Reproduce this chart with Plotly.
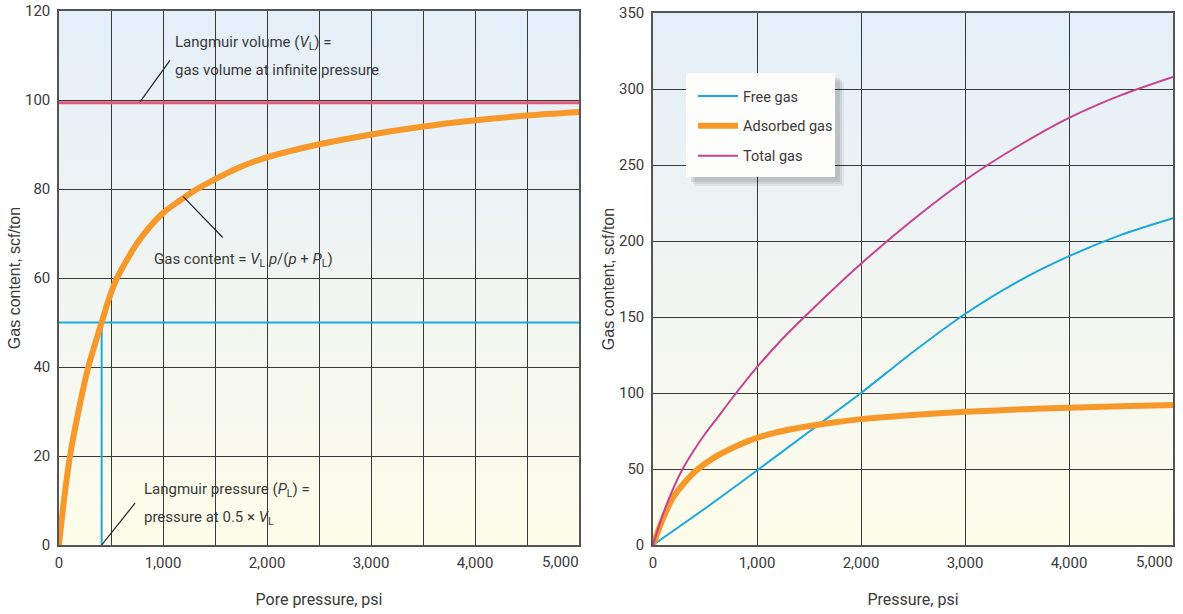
import base64
import plotly.graph_objects as go

# ---------------- data ----------------
# Left panel: Langmuir isotherm
left_p = [0, 50, 106, 200, 282, 410, 490, 554, 763, 1000, 1163, 1300, 1484,
          1750, 1997, 2494, 2990, 3487, 3984, 4497, 5000]
left_gas = [0, 10.5, 20, 31.5, 40, 50, 56, 59.8, 68.2, 74.6, 77.4, 79.6, 82.0,
            85.0, 87.1, 90.0, 92.2, 94.0, 95.4, 96.5, 97.3]
langmuir_volume = 99.4      # V_L line
langmuir_pressure = 410     # P_L
half_volume = 50            # 0.5 x V_L

# Right panel
free_p = [0, 500, 1000, 1500, 2000, 2500, 3000, 3500, 4000, 4500, 5000]
free_gas = [0, 24, 49, 74.5, 100, 127, 152, 173, 190, 204, 215]

ads_p = [0, 100, 200, 400, 600, 800, 1000, 1300, 1600, 2000, 2500, 3000,
         3500, 4000, 4500, 5000]
ads_gas = [0, 18, 32, 48, 58, 65, 70.5, 75.8, 79.3, 82.8, 85.6, 87.6, 89.1,
           90.3, 91.3, 92.1]

total_p = [0, 100, 200, 285, 400, 500, 600, 800, 1000, 1250, 1500, 2000, 2500,
           3000, 3500, 4000, 4500, 5000]
total_gas = [0, 21, 38, 50, 63, 73, 82, 100, 117, 136, 153, 185, 214,
             240, 262, 281, 296, 308]

left_yticks = [0, 20, 40, 60, 80, 100, 120]
right_yticks = [0, 50, 100, 150, 200, 250, 300, 350]
xticks = [0, 1000, 2000, 3000, 4000, 5000]
xtick_labels = ["0", "1,000", "2,000", "3,000", "4,000", ""]
last_xtick = 5000
last_xtick_label = "5,000"   # drawn right-aligned to the axis end, as in the source

# ---------------- styles ----------------
NARROW = "Roboto, Liberation Sans, Arial, sans-serif"
REG = "Liberation Sans, Arial, sans-serif"
TXT = "#3a3a3a"
GRID = "#3a3a3a"
ORANGE = "#f7982a"
BLUE = "#1ba8dc"
RED = "#e5587a"
MAGENTA = "#c8428f"

W, H = 1183, 614
L_DOM_X = [59 / W, 579 / W]
R_DOM_X = [653 / W, 1173 / W]
L_DOM_Y = [1 - 545 / H, 1 - 11 / H]
R_DOM_Y = [1 - 545 / H, 1 - 13 / H]

fig = go.Figure()

# left panel traces
fig.add_trace(go.Scatter(x=[0, 5000], y=[langmuir_volume, langmuir_volume],
                         mode="lines", line=dict(color=RED, width=3),
                         showlegend=False, xaxis="x", yaxis="y", hoverinfo="skip"))
fig.add_trace(go.Scatter(x=[0, 5000], y=[half_volume, half_volume],
                         mode="lines", line=dict(color=BLUE, width=2),
                         showlegend=False, xaxis="x", yaxis="y", hoverinfo="skip"))
fig.add_trace(go.Scatter(x=[langmuir_pressure, langmuir_pressure], y=[0, half_volume],
                         mode="lines", line=dict(color=BLUE, width=2),
                         showlegend=False, xaxis="x", yaxis="y", hoverinfo="skip"))
fig.add_trace(go.Scatter(x=left_p, y=left_gas, mode="lines",
                         line=dict(color=ORANGE, width=6, shape="spline", smoothing=0.8),
                         showlegend=False, xaxis="x", yaxis="y"))

# right panel traces
fig.add_trace(go.Scatter(x=free_p, y=free_gas, mode="lines", name="Free gas",
                         line=dict(color=BLUE, width=2, shape="spline", smoothing=0.8),
                         legendgroup="a", xaxis="x2", yaxis="y2"))
fig.add_trace(go.Scatter(x=ads_p, y=ads_gas, mode="lines", name="Adsorbed gas",
                         line=dict(color=ORANGE, width=6, shape="spline", smoothing=0.8),
                         legendgroup="b", xaxis="x2", yaxis="y2"))
fig.add_trace(go.Scatter(x=total_p, y=total_gas, mode="lines", name="Total gas",
                         line=dict(color=MAGENTA, width=2, shape="spline", smoothing=0.8),
                         legendgroup="c", xaxis="x2", yaxis="y2"))

# gradient background image (below grid)
svg = ('<svg xmlns="http://www.w3.org/2000/svg" width="10" height="100" '
       'viewBox="0 0 10 100" preserveAspectRatio="none"><defs>'
       '<linearGradient id="g" x1="0" y1="0" x2="0" y2="1">'
       '<stop offset="0" stop-color="#e4eff9"/>'
       '<stop offset="0.45" stop-color="#eff4f3"/>'
       '<stop offset="1" stop-color="#fffdea"/>'
       '</linearGradient></defs><rect width="10" height="100" fill="url(#g)"/></svg>')
src = "data:image/svg+xml;base64," + base64.b64encode(svg.encode()).decode()
images = [
    dict(source=src, xref="x", yref="y", x=0, y=120, sizex=5000, sizey=120,
         sizing="stretch", layer="below", xanchor="left", yanchor="top"),
    dict(source=src, xref="x2", yref="y2", x=0, y=350, sizex=5000, sizey=350,
         sizing="stretch", layer="below", xanchor="left", yanchor="top"),
]

tickfont = dict(family=NARROW, size=15, color=TXT)
common_axis = dict(showgrid=True, gridcolor=GRID, gridwidth=1, zeroline=False,
                   showline=True, linecolor="#555555", linewidth=1.5, mirror=True,
                   ticks="", tickfont=tickfont, automargin=False, fixedrange=True)

fig.update_layout(
    width=W, height=H,
    margin=dict(l=0, r=0, t=0, b=0),
    paper_bgcolor="white", plot_bgcolor="rgba(0,0,0,0)",
    images=images,
    xaxis=dict(common_axis, domain=L_DOM_X, range=[0, 5000], tickvals=xticks,
               ticktext=xtick_labels, anchor="y", ticklabelstandoff=3,
               minor=dict(dtick=500, showgrid=True, gridcolor=GRID, gridwidth=1),
               title=dict(text="Pore pressure, psi", standoff=23,
                          font=dict(family=NARROW, size=16, color=TXT))),
    yaxis=dict(common_axis, domain=L_DOM_Y, range=[0, 120], tickvals=left_yticks,
               anchor="x", ticklabelstandoff=4,
               title=dict(text="Gas content, scf/ton", standoff=0,
                          font=dict(family=REG, size=16, color=TXT))),
    xaxis2=dict(common_axis, domain=R_DOM_X, range=[0, 5000], tickvals=xticks,
                ticktext=xtick_labels, anchor="y2", ticklabelstandoff=3,
                title=dict(text="Pressure, psi", standoff=23,
                           font=dict(family=NARROW, size=16, color=TXT))),
    yaxis2=dict(common_axis, domain=R_DOM_Y, range=[0, 350], tickvals=right_yticks,
                anchor="x2", ticklabelstandoff=4,
                title=dict(text="Gas content, scf/ton", standoff=0,
                           font=dict(family=REG, size=16, color=TXT))),
    legend=dict(x=693 / W, y=1 - 80 / H, xanchor="left", yanchor="top",
                bgcolor="rgba(0,0,0,0)", borderwidth=0, tracegroupgap=8,
                itemwidth=40,
                font=dict(family=NARROW, size=14.5, color=TXT)),
    showlegend=True,
)

# legend box with soft shadow
bx0, bx1, by0, by1 = 686, 835, 73, 177
shapes = []
for off, op in [(9, 0.05), (7, 0.07), (5, 0.09)]:
    shapes.append(dict(type="rect", xref="paper", yref="paper", layer="above",
                       x0=(bx0 + off) / W, x1=(bx1 + off) / W,
                       y0=1 - (by1 + off) / H, y1=1 - (by0 + off) / H,
                       fillcolor=f"rgba(0,0,0,{op})", line=dict(width=0)))
shapes.append(dict(type="rect", xref="paper", yref="paper", layer="above",
                   x0=bx0 / W, x1=bx1 / W, y0=1 - by1 / H, y1=1 - by0 / H,
                   fillcolor="#fdfdfb", line=dict(width=0)))

# leader lines (left panel, data coords)
leader = dict(color="#222222", width=1.2)
shapes += [
    dict(type="line", xref="x", yref="y", x0=1067, y0=108.9, x1=779, y1=99.6, line=leader),
    dict(type="line", xref="x", yref="y", x0=1574, y0=69.1, x1=1195, y1=78.3, line=leader),
    dict(type="line", xref="x", yref="y", x0=731, y0=9.4, x1=410, y1=0, line=leader),
]
fig.update_layout(shapes=shapes)

afont = dict(family=NARROW, size=15, color=TXT)
annos = [
    dict(x=1096, y=112.8, text="Langmuir volume (<i>V</i><sub>L</sub>) ="),
    dict(x=1096, y=106.7, text="gas volume at infinite pressure"),
    dict(x=894, y=64.0, text="Gas content = <i>V</i><sub>L</sub> <i>p</i>/(<i>p</i> + <i>P</i><sub>L</sub>)"),
    dict(x=795, y=12.4, text="Langmuir pressure (<i>P</i><sub>L</sub>) ="),
    dict(x=795, y=6.1, text="pressure at 0.5 × <i>V</i><sub>L</sub>"),
]
for a in annos:
    fig.add_annotation(xref="x", yref="y", showarrow=False, xanchor="left",
                       yanchor="middle", font=afont, **a)

# last x tick label of each panel, right-aligned to the axis end
for xr in ["x", "x2"]:
    fig.add_annotation(xref=xr, yref="paper", x=last_xtick, y=1 - 562 / H,
                       text=last_xtick_label, showarrow=False, xanchor="right",
                       yanchor="middle", font=tickfont, xshift=2)

fig.write_html("out.html", config={"displayModeBar": False},
               post_script="document.body.style.margin='0';")
